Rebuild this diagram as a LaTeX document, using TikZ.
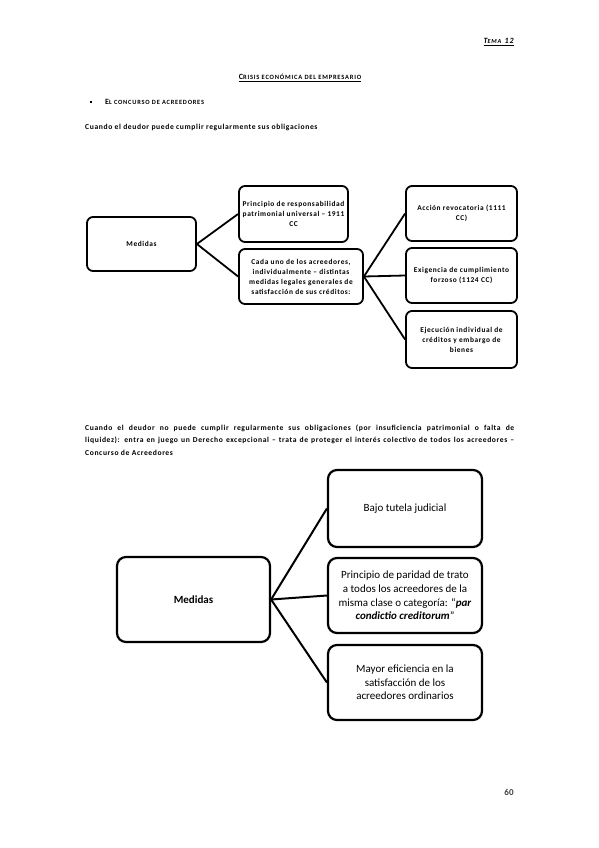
\documentclass[tikz,border=0pt]{standalone}
\usepackage{fontspec}
\setmainfont{Carlito}
\newfontfamily\spcd[LetterSpace=8]{Carlito}
\newfontfamily\spcw[LetterSpace=12]{Carlito}
\begin{document}
\begin{tikzpicture}[x=1pt,y=-1pt,
  sbox/.style={draw=black,line width=1.8pt,rounded corners=6pt,inner sep=0pt,align=center,font=\spcd\fontsize{7.4}{10}\selectfont\bfseries},
  bbox/.style={draw=black,line width=2.2pt,rounded corners=9pt,inner sep=0pt,align=center,font=\fontsize{11}{13.6}\selectfont},
  conn/.style={line width=1.8pt},
  bconn/.style={line width=2pt},
  para/.style={inner sep=0pt,font=\spcd\fontsize{7.6}{12.5}\selectfont\bfseries}
]
\useasboundingbox[fill=white] (0,0) rectangle (599,848);

% header
\node[anchor=east,inner sep=0pt,font=\spcw\bfseries\itshape] (tema) at (514,42)
  {\underline{{\fontsize{8}{9}\selectfont T}{\fontsize{6.2}{7}\selectfont EMA} {\fontsize{8}{9}\selectfont 12}}};
\node[inner sep=0pt,font=\spcw\bfseries] (title) at (300,78)
  {\underline{{\fontsize{8}{9}\selectfont C}{\fontsize{6.5}{7}\selectfont RISIS ECONÓMICA DEL EMPRESARIO}}};
\node[inner sep=0pt,fill=black,minimum size=2.6pt] (bullet) at (91,102) {};
\node[anchor=west,inner sep=0pt,font=\spcw\bfseries] (sect) at (105,102)
  {{\fontsize{8}{9}\selectfont E}{\fontsize{6.4}{7}\selectfont L CONCURSO DE ACREEDORES}};
\node[para,anchor=west] (p1txt) at (85,127) {Cuando el deudor puede cumplir regularmente sus obligaciones};

% diagram 1
\node[sbox,minimum width=109pt,minimum height=54pt] (med1) at (141.5,244) {Medidas};
\node[sbox,minimum width=109pt,minimum height=56pt] (pa) at (293.5,214)
  {Principio de responsabilidad\\patrimonial universal – 1911\\CC};
\node[sbox,minimum width=124pt,minimum height=55pt] (pb) at (301,276.5)
  {Cada uno de los acreedores,\\individualmente – distintas\\medidas legales generales de\\satisfacción de sus créditos:};
\node[sbox,minimum width=111pt,minimum height=55pt] (ra) at (461.5,213.5)
  {Acción revocatoria (1111\\CC)};
\node[sbox,minimum width=111pt,minimum height=55pt] (rb) at (461.5,275.5)
  {Exigencia de cumplimiento\\forzoso (1124 CC)};
\node[sbox,minimum width=111pt,minimum height=57pt] (rc) at (461.5,339.5)
  {Ejecución individual de\\créditos y embargo de\\bienes};
\draw[conn] (med1.east) -- (pa.west);
\draw[conn] (med1.east) -- (pb.west);
\draw[conn] (pb.east) -- (ra.west);
\draw[conn] (pb.east) -- (rb.west);
\draw[conn] (pb.east) -- (rc.west);

% paragraph 2
\node[para,anchor=north west,text width=429pt,align=justify] (p2txt) at (85,424.5)
  {Cuando el deudor no puede cumplir regularmente sus obligaciones (por insuficiencia patrimonial o falta de\linebreak liquidez): entra en juego un Derecho excepcional – trata de proteger el interés colectivo de todos los acreedores –\linebreak Concurso de Acreedores};

% diagram 2
\node[bbox,minimum width=153pt,minimum height=85pt,font=\fontsize{11}{13.6}\selectfont\bfseries] (med2) at (193.5,599.5) {Medidas};
\node[bbox,minimum width=154pt,minimum height=77pt] (ba) at (405,508.5) {Bajo tutela judicial};
\node[bbox,minimum width=154pt,minimum height=75pt] (bb) at (405,595.5)
  {Principio de paridad de trato\\a todos los acreedores de la\\misma clase o categoría: “\textbf{\textit{par}}\\\textbf{\textit{condictio creditorum}}”};
\node[bbox,minimum width=154pt,minimum height=75pt] (bc) at (405,682.5)
  {Mayor eficiencia en la\\satisfacción de los\\acreedores ordinarios};
\draw[bconn] (med2.east) -- (ba.west);
\draw[bconn] (med2.east) -- (bb.west);
\draw[bconn] (med2.east) -- (bc.west);

% page number
\node[inner sep=0pt,font=\fontsize{9}{10}\selectfont\bfseries,text=black!75] (pnum) at (509,792) {60};
\end{tikzpicture}
\end{document}
